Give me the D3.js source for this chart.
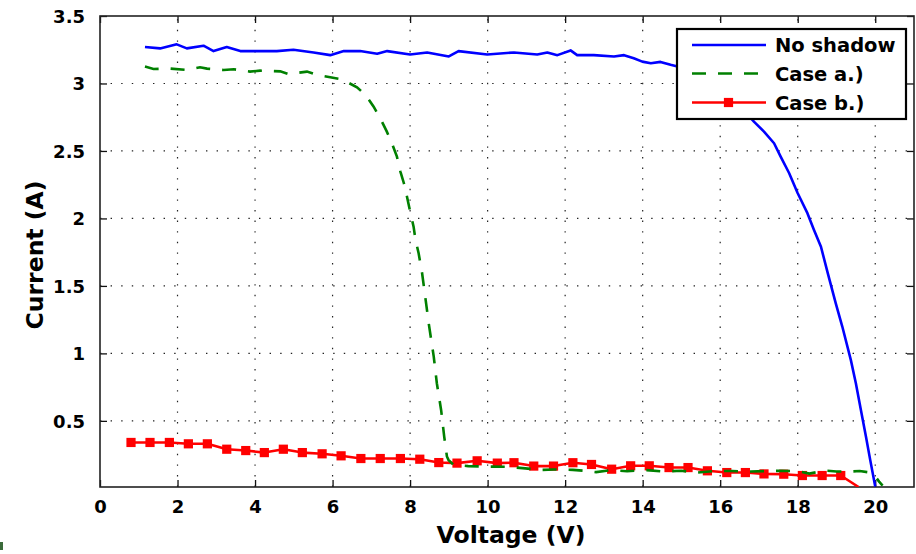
<!DOCTYPE html>
<html>
<head>
<meta charset="utf-8">
<script src="https://cdn.jsdelivr.net/npm/d3@7"></script>
<style>
  html, body { margin: 0; padding: 0; background: #fff; }
  svg { display: block; }
  text { font-family: "DejaVu Sans", sans-serif; font-weight: bold; fill: #000; }
</style>
</head>
<body>
<svg id="chart" width="916" height="554"></svg>
<script>
// ---------- data ----------
const seriesNames = ["No shadow", "Case a.)", "Case b.)"];

const noShadowV = [1.16, 1.55, 1.98, 2.24, 2.67, 2.93, 3.27, 3.62, 4.0, 4.56, 4.99, 5.51, 5.94, 6.29, 6.71, 7.15, 7.41, 8.0, 8.44, 9.0, 9.25, 9.99, 10.68, 11.28, 11.54, 11.80, 12.14, 12.31, 12.74, 13.26, 13.52, 13.77, 13.99, 14.21, 14.46, 14.72, 14.90, 15.5, 16.0, 16.4, 16.87, 17.13, 17.39, 17.56, 17.78, 18.0, 18.25, 18.42, 18.6, 18.77, 18.98, 19.15, 19.37, 19.5, 19.63, 19.76, 19.87, 20.0];
const noShadowI = [3.27, 3.26, 3.29, 3.26, 3.28, 3.24, 3.27, 3.24, 3.24, 3.24, 3.25, 3.23, 3.21, 3.24, 3.24, 3.22, 3.24, 3.215, 3.23, 3.20, 3.24, 3.215, 3.23, 3.215, 3.23, 3.21, 3.245, 3.21, 3.21, 3.20, 3.21, 3.187, 3.162, 3.15, 3.16, 3.138, 3.125, 3.07, 2.98, 2.87, 2.717, 2.643, 2.557, 2.458, 2.335, 2.187, 2.039, 1.915, 1.79, 1.60, 1.372, 1.199, 0.952, 0.779, 0.581, 0.384, 0.211, 0.013];

const caseAV = [1.16, 1.38, 1.81, 2.24, 2.58, 2.76, 3.19, 3.45, 3.87, 4.13, 4.65, 4.86, 5.34, 5.60, 5.94, 6.24, 6.63, 6.85, 7.06, 7.23, 7.40, 7.53, 7.66, 7.75, 7.84, 7.92, 8.01, 8.09, 8.14, 8.22, 8.31, 8.39, 8.48, 8.61, 8.69, 8.80, 8.88, 8.95, 8.99, 9.12, 9.5, 10.0, 10.5, 10.9, 11.4, 11.7, 12.2, 12.5, 12.8, 13.2, 13.6, 14.1, 14.5, 15.0, 15.4, 15.9, 16.3, 16.8, 17.2, 17.6, 18.0, 18.3, 18.7, 19.0, 19.3, 19.6, 19.8, 19.97, 20.1, 20.19];
const caseAI = [3.125, 3.107, 3.11, 3.10, 3.12, 3.11, 3.10, 3.105, 3.088, 3.095, 3.09, 3.07, 3.088, 3.063, 3.046, 3.031, 2.972, 2.915, 2.828, 2.742, 2.643, 2.557, 2.458, 2.347, 2.261, 2.161, 2.039, 1.939, 1.841, 1.742, 1.594, 1.421, 1.224, 0.976, 0.779, 0.581, 0.384, 0.236, 0.211, 0.174, 0.165, 0.161, 0.16, 0.15, 0.137, 0.14, 0.137, 0.13, 0.12, 0.135, 0.127, 0.135, 0.125, 0.13, 0.117, 0.13, 0.128, 0.125, 0.128, 0.13, 0.128, 0.109, 0.132, 0.125, 0.124, 0.128, 0.12, 0.10, 0.05, 0.02];

const caseBV = [0.80, 1.29, 1.79, 2.28, 2.77, 3.27, 3.76, 4.24, 4.73, 5.22, 5.73, 6.22, 6.73, 7.23, 7.75, 8.25, 8.74, 9.21, 9.73, 10.25, 10.68, 11.19, 11.70, 12.20, 12.68, 13.20, 13.69, 14.17, 14.68, 15.17, 15.67, 16.17, 16.65, 17.13, 17.64, 18.12, 18.63, 19.11, 19.57];
const caseBI = [0.34, 0.34, 0.34, 0.33, 0.33, 0.29, 0.28, 0.265, 0.29, 0.265, 0.256, 0.241, 0.221, 0.221, 0.221, 0.216, 0.191, 0.187, 0.204, 0.187, 0.19, 0.165, 0.165, 0.19, 0.177, 0.142, 0.167, 0.167, 0.154, 0.154, 0.13, 0.117, 0.117, 0.107, 0.105, 0.095, 0.095, 0.095, 0.01];
const caseBMarkerCount = 38; // markers on the first 38 samples

const xTicks = [0, 2, 4, 6, 8, 10, 12, 14, 16, 18, 20];
const yTicks = [0.5, 1, 1.5, 2, 2.5, 3, 3.5];
const xTickLabels = ["0", "2", "4", "6", "8", "10", "12", "14", "16", "18", "20"];
const yTickLabels = ["0.5", "1", "1.5", "2", "2.5", "3", "3.5"];
const xLabel = "Voltage (V)";
const yLabel = "Current (A)";

// ---------- layout ----------
const W = 916, H = 554;
const margin = { left: 100, top: 16, right: 2, bottom: 67 };
const x = d3.scaleLinear().domain([0, 21]).range([margin.left, W - margin.right]);
const y = d3.scaleLinear().domain([0.01, 3.5]).range([H - margin.bottom, margin.top]);
const colors = { blue: "#0000ff", green: "#008000", red: "#ff0000" };

const svg = d3.select("#chart");
svg.append("rect").attr("width", W).attr("height", H).attr("fill", "#fff");

const x0 = x.range()[0], x1 = x.range()[1], y0 = y.range()[0], y1 = y.range()[1];

// grid
const grid = svg.append("g").attr("stroke", "#222").attr("stroke-width", 1.2)
  .attr("stroke-dasharray", "1.4,9.2");
grid.selectAll("line.gx").data(xTicks.filter(t => t > 0)).join("line")
  .attr("x1", d => x(d)).attr("x2", d => x(d)).attr("y1", y0).attr("y2", y1);
grid.selectAll("line.gy").data(yTicks.filter(t => t < 3.5)).join("line")
  .attr("y1", d => y(d)).attr("y2", d => y(d)).attr("x1", x0).attr("x2", x1);

// axes with inward ticks (D3 axes)
const tickLen = 7;
const axB = svg.append("g").attr("transform", `translate(0,${y0})`)
  .call(d3.axisBottom(x).tickValues(xTicks).tickSize(-tickLen).tickPadding(16)
    .tickFormat((d, i) => xTickLabels[i]));
const axT = svg.append("g").attr("transform", `translate(0,${y1})`)
  .call(d3.axisTop(x).tickValues(xTicks).tickSize(-tickLen).tickFormat(""));
const axL = svg.append("g").attr("transform", `translate(${x0},0)`)
  .call(d3.axisLeft(y).tickValues(yTicks).tickSize(-tickLen).tickPadding(15)
    .tickFormat((d, i) => yTickLabels[i]));
const axR = svg.append("g").attr("transform", `translate(${x1},0)`)
  .call(d3.axisRight(y).tickValues(yTicks).tickSize(-tickLen).tickFormat(""));
[axB, axT, axL, axR].forEach(g => {
  g.select(".domain").remove();
  g.selectAll(".tick line").attr("stroke", "#111").attr("stroke-width", 1.3);
  g.selectAll("text").attr("font-family", "DejaVu Sans").attr("font-weight", "bold")
    .attr("font-size", 18).attr("fill", "#000");
});
axB.selectAll("text").attr("dy", "0.55em");
axL.selectAll("text").attr("dy", "0.36em");

// box
svg.append("rect").attr("x", x0).attr("y", y1).attr("width", x1 - x0).attr("height", y0 - y1)
  .attr("fill", "none").attr("stroke", "#222").attr("stroke-width", 1.6);

// lines
const clipId = "plotclip";
svg.append("clipPath").attr("id", clipId).append("rect")
  .attr("x", x0).attr("y", y1).attr("width", x1 - x0).attr("height", y0 - y1);
const plot = svg.append("g").attr("clip-path", `url(#${clipId})`);
const line = d3.line().x(d => x(d[0])).y(d => y(d[1]));

const dataB = caseBV.map((v, i) => [v, caseBI[i]]);
const dataA = caseAV.map((v, i) => [v, caseAI[i]]);
const dataN = noShadowV.map((v, i) => [v, noShadowI[i]]);

plot.append("path").datum(dataB).attr("d", line).attr("fill", "none")
  .attr("stroke", colors.red).attr("stroke-width", 2.6).attr("stroke-linejoin", "round");
plot.selectAll("rect.mk").data(dataB.slice(0, caseBMarkerCount)).join("rect")
  .attr("x", d => x(d[0]) - 4.6).attr("y", d => y(d[1]) - 4.6)
  .attr("width", 9.2).attr("height", 9.2).attr("fill", colors.red);
plot.append("path").datum(dataA).attr("d", line).attr("fill", "none")
  .attr("stroke", colors.green).attr("stroke-width", 2.6).attr("stroke-dasharray", "14,12");
plot.append("path").datum(dataN).attr("d", line).attr("fill", "none")
  .attr("stroke", colors.blue).attr("stroke-width", 2.6).attr("stroke-linejoin", "round");

// axis labels
svg.append("text").attr("x", (x0 + x1) / 2 + 4).attr("y", 543).attr("text-anchor", "middle")
  .attr("font-size", 23.5).text(xLabel);
svg.append("text").attr("transform", "translate(43,255) rotate(-90)").attr("text-anchor", "middle")
  .attr("font-size", 23.5).text(yLabel);

// legend
const lg = svg.append("g");
lg.append("rect").attr("x", 677).attr("y", 29).attr("width", 229).attr("height", 90)
  .attr("fill", "#fff").attr("stroke", "#000").attr("stroke-width", 2.2);
const rows = [
  { name: seriesNames[0], color: colors.blue, dash: null, marker: false, y: 45 },
  { name: seriesNames[1], color: colors.green, dash: "14,12", marker: false, y: 73.5 },
  { name: seriesNames[2], color: colors.red, dash: null, marker: true, y: 102.5 }
];
rows.forEach(r => {
  lg.append("line").attr("x1", 692).attr("x2", 766).attr("y1", r.y).attr("y2", r.y)
    .attr("stroke", r.color).attr("stroke-width", 2.6)
    .attr("stroke-dasharray", r.dash);
  if (r.marker) lg.append("rect").attr("x", 728.5 - 4.6).attr("y", r.y - 4.6)
    .attr("width", 9.2).attr("height", 9.2).attr("fill", r.color);
  lg.append("text").attr("x", 775).attr("y", r.y).attr("dy", "0.36em")
    .attr("font-size", 19.5).text(r.name);
});

// small artifact at lower-left corner of the picture
svg.append("rect").attr("x", 0).attr("y", 542).attr("width", 3).attr("height", 8).attr("fill", "#3b6b3b");
</script>
</body>
</html>
